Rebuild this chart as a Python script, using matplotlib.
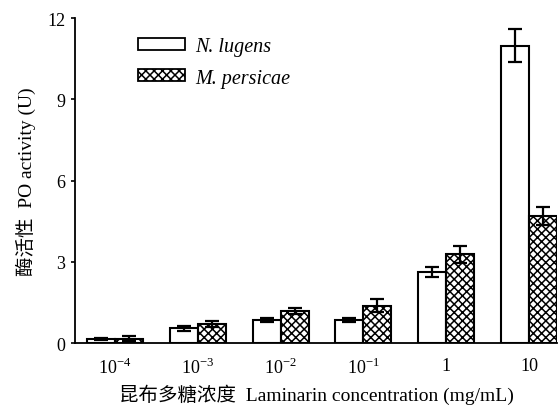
import numpy as np
import matplotlib.pyplot as plt
from matplotlib.patches import Patch

# Data
conc_labels = ["$10^{-4}$", "$10^{-3}$", "$10^{-2}$", "$10^{-1}$", "1", "10"]
nl_mean = [0.15, 0.54, 0.84, 0.84, 2.61, 10.98]
nl_err = [0.05, 0.10, 0.07, 0.07, 0.18, 0.60]
mp_mean = [0.16, 0.70, 1.18, 1.38, 3.27, 4.70]
mp_err = [0.10, 0.12, 0.12, 0.25, 0.32, 0.33]

plt.rcParams['font.family'] = ['Liberation Serif', 'Noto Sans CJK SC']
plt.rcParams['hatch.linewidth'] = 1.1
plt.rcParams['mathtext.fontset'] = 'custom'
plt.rcParams['mathtext.rm'] = 'Liberation Serif'

fig = plt.figure(figsize=(5.58, 4.06), dpi=100)
ax = fig.add_axes([0.1344, 0.1527, 0.8638, 0.8005])

x = np.arange(len(conc_labels))
w = 0.338

err_kw = dict(elinewidth=1.6, capthick=1.6, ecolor="black")
ax.bar(x - w/2, nl_mean, w, yerr=nl_err, capsize=5, color="white",
       edgecolor="black", linewidth=1.5, error_kw=err_kw, zorder=2)
ax.bar(x + w/2, mp_mean, w, yerr=mp_err, capsize=5, color="white",
       edgecolor="black", linewidth=1.5, hatch="xxxx", error_kw=err_kw, zorder=2)

ax.set_xlim(-0.483, 5.338)
ax.set_ylim(0, 12)
ax.set_yticks([0, 3, 6, 9, 12])
ax.set_xticks(x)
ax.set_xticklabels(conc_labels)

for s in ["top", "right"]:
    ax.spines[s].set_visible(False)
for s in ["left", "bottom"]:
    ax.spines[s].set_linewidth(1.3)

ax.tick_params(axis="y", direction="out", length=3, width=1.2, labelsize=13, pad=4)
ax.tick_params(axis="x", length=0, labelsize=13, pad=10)

ax.set_ylabel("酶活性  PO activity (U)", fontsize=14, labelpad=8)
ax.set_xlabel("昆布多糖浓度  Laminarin concentration (mg/mL)", fontsize=14, labelpad=4.5)

ax.legend(handles=[
    Patch(facecolor="white", edgecolor="black", linewidth=1.3, label="N. lugens"),
    Patch(facecolor="white", edgecolor="black", linewidth=1.3, hatch="xxxx", label="M. persicae"),
], loc="upper left", bbox_to_anchor=(0.114, 0.965), frameon=False,
    prop={"style": "italic", "size": 14.5}, handlelength=2.33, handleheight=0.55,
    labelspacing=0.6, handletextpad=0.5, borderaxespad=0)

fig.savefig("out.png", dpi=100)
